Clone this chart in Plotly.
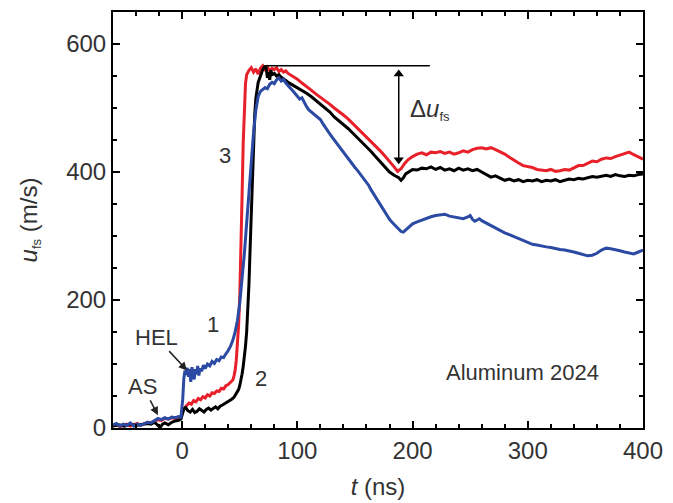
import plotly.graph_objects as go

# ---- free-surface velocity histories, Aluminum 2024 ----
# curve 1 (blue)
t_1 = [-60, -57, -54, -51, -48, -45, -42, -39, -36, -33, -30, -27, -24, -21, -18, -15, -12, -9, -6, -3, -1,
       0.5, 1.5, 2.5, 3.5, 4.5, 5.5, 6.5, 7.5, 8.5, 9.5, 10.5, 11.5, 12.5, 13.5, 14.5, 15.5, 17, 18.5, 20,
       22, 24, 26, 28, 30, 32, 34, 36, 38, 40, 42, 44, 46, 48, 50, 52, 54, 56, 58, 60, 62, 64, 66, 68, 70,
       72, 74, 76, 78, 80, 82, 84, 86, 88, 90, 92, 94, 96, 98, 100, 102, 104, 106, 108, 110, 112, 114, 116,
       118, 120, 122, 124, 126, 128, 130, 132, 134, 136, 138, 140, 142, 144, 146, 148, 150, 152, 154, 156,
       158, 160, 162, 164, 166, 168, 170, 172, 174, 176, 178, 180, 182, 184, 186, 188, 190, 192, 194, 196,
       198, 200, 204, 208, 212, 216, 220, 224, 228, 232, 236, 240, 244, 248, 250, 252, 254, 256, 258, 260,
       264, 268, 272, 276, 280, 284, 288, 292, 296, 300, 304, 308, 312, 316, 320, 324, 328, 332, 336, 340,
       344, 348, 352, 356, 360, 364, 368, 372, 376, 380, 384, 388, 392, 396, 400]
u_1 = [5, 7, 3, 6, 4, 8, 3, 6, 4, 7, 9, 8, 12, 15, 13, 16, 14, 17, 16, 18, 17,
       45, 78, 90, 83, 94, 80, 92, 72, 95, 86, 76, 92, 84, 97, 82, 93, 89, 98, 93,
       100, 97, 104, 101, 107, 105, 111, 110, 116, 121, 128, 137, 150, 168, 195, 232, 272, 320, 370, 418, 462, 497, 518, 526, 529,
       532, 530, 537, 540, 538, 544, 547, 542, 545, 539, 534, 531, 527, 523, 518, 514, 516, 508, 502, 497, 494, 491, 489,
       486, 482, 476, 470, 465, 460, 455, 450, 446, 441, 436, 431, 427, 422, 416, 411, 407, 403, 398, 394,
       389, 384, 379, 372, 366, 360, 355, 350, 344, 338, 331, 326, 322, 318, 314, 311, 307, 306, 309, 313,
       316, 319, 322, 325, 327, 330, 332, 333, 334, 331, 330, 328, 327, 330, 332, 326, 323, 325, 327, 324,
       320, 316, 312, 308, 305, 302, 299, 295, 292, 290, 287, 286, 284, 283, 282, 280, 279, 278, 277, 275,
       273, 271, 269, 270, 273, 278, 281, 280, 279, 277, 275, 273, 272, 275, 278]

# curve 2 (black)
t_2 = [-60, -55, -50, -45, -40, -35, -30, -27, -24, -21, -19, -17, -15, -12, -9, -6, -3, -1,
       0.5, 1.5, 3, 5, 7, 9, 11, 13, 15, 17, 19, 21, 23, 25, 27, 29, 31, 33, 35, 37, 39, 41, 43, 45, 47,
       49, 50, 51, 52, 53, 54, 55, 56, 57, 58, 59, 60, 61, 62, 63, 64, 65, 66, 68, 70, 72, 73, 74, 75, 76,
       77, 78, 80, 82, 84, 86, 88, 90, 92, 96, 100, 104, 108, 112, 116, 120, 124, 128, 132, 136, 140, 144,
       148, 152, 156, 160, 164, 168, 172, 176, 180, 184, 188, 190, 192, 194, 197, 200, 204, 208, 212, 216,
       220, 224, 228, 232, 236, 240, 244, 248, 252, 256, 260, 264, 268, 272, 276, 280, 284, 288, 292, 296,
       300, 304, 308, 312, 316, 320, 324, 328, 332, 336, 340, 344, 348, 352, 356, 360, 364, 368, 372, 376,
       380, 384, 388, 392, 396, 400]
u_2 = [3, 5, 3, 6, 4, 5, 7, 6, 9, 4, 1, 6, 8, 5, 9, 11, 12, 14,
       24, 30, 32, 27, 25, 29, 24, 26, 30, 27, 25, 29, 31, 28, 30, 33, 30, 34, 36, 38, 40, 42, 45, 48, 53,
       60, 66, 74, 84, 96, 110, 128, 150, 185, 225, 280, 335, 400, 450, 490, 515, 530, 540, 550, 560, 566, 562, 547, 556, 544,
       559, 552, 554, 550, 552, 548, 546, 543, 540, 536, 532, 527, 523, 518, 512, 506, 500, 494, 486, 480, 475, 468,
       461, 454, 447, 440, 432, 424, 416, 408, 400, 395, 391, 387, 391, 397, 401, 404, 403, 406, 405, 408,
       404, 407, 403, 405, 402, 406, 403, 405, 402, 404, 400, 396, 392, 394, 390, 387, 389, 386, 388, 385,
       387, 386, 388, 385, 387, 386, 388, 385, 387, 389, 388, 390, 389, 391, 393, 392, 394, 395, 393, 396,
       394, 393, 395, 394, 396, 397]

# curve 3 (red)
t_3 = [-60, -57, -54, -51, -48, -45, -42, -39, -36, -33, -30, -27, -24, -21, -18, -15, -12, -9, -6, -3, -1,
       0.5, 2, 4, 6, 8, 10, 12, 14, 16, 18, 20, 22, 24, 26, 28, 30, 32, 34, 36, 38, 40, 42, 44, 45, 46, 47,
       48, 49, 50, 51, 52, 53, 54, 55, 56, 58, 60, 62, 64, 66, 68, 70, 72, 74, 76, 78, 80, 82, 84, 86, 88,
       90, 92, 94, 96, 98, 100, 104, 108, 112, 116, 120, 124, 128, 132, 136, 140, 144, 148, 152, 156, 160,
       164, 168, 172, 176, 180, 184, 187, 190, 193, 196, 200, 204, 208, 212, 216, 220, 224, 228, 232, 236,
       240, 244, 248, 252, 256, 260, 264, 268, 272, 276, 280, 284, 288, 292, 296, 300, 304, 308, 312, 316,
       320, 324, 328, 332, 336, 340, 344, 348, 352, 356, 360, 364, 368, 372, 376, 380, 384, 388, 392, 396, 400]
u_3 = [3, 5, 2, 4, 6, 3, 5, 7, 4, 6, 9, 8, 11, 13, 12, 15, 14, 16, 15, 17, 18,
       26, 31, 35, 39, 37, 43, 41, 46, 44, 49, 47, 52, 50, 55, 54, 58, 57, 62, 61, 66, 68, 71, 75, 81, 90, 106,
       128, 160, 205, 270, 360, 445, 505, 538, 552, 559, 563, 556, 561, 553, 562, 566, 560, 564, 558, 562, 560, 563, 557, 560, 556,
       558, 554, 552, 550, 547, 545, 539, 534, 528, 522, 517, 511, 506, 500, 495, 489, 483, 476, 469, 462, 454,
       447, 440, 433, 425, 417, 408, 401, 405, 413, 419, 424, 428, 430, 427, 431, 430, 432, 429, 431, 428,
       430, 433, 431, 435, 437, 438, 436, 438, 435, 432, 428, 423, 418, 414, 410, 409, 407, 404, 403, 402,
       404, 401, 402, 404, 403, 406, 410, 410, 413, 417, 416, 420, 422, 421, 424, 426, 429, 431, 427, 423, 420]

RED = "#e8202a"
BLUE = "#2b4aa3"
INK = "#333333"
FONT = "Liberation Sans, Arial, Helvetica, sans-serif"
SUB_FS = "<span style='font-size:13px;baseline-shift:-4px'>fs</span>"

fig = go.Figure()
fig.add_trace(go.Scatter(x=t_3, y=u_3, mode="lines", line=dict(color=RED, width=3), name="3"))
fig.add_trace(go.Scatter(x=t_2, y=u_2, mode="lines", line=dict(color="black", width=3), name="2"))
fig.add_trace(go.Scatter(x=t_1, y=u_1, mode="lines", line=dict(color=BLUE, width=3), name="1"))

# spall-signal guide: peak level and pull-back double arrow
u_peak = max(u_2)
fig.add_shape(type="line", xref="x", yref="y", x0=71.5, x1=215, y0=u_peak, y1=u_peak,
              line=dict(color="black", width=1.5))
t_pull = 188
u_arrow_top, u_arrow_bot = 561, 411
fig.add_trace(go.Scatter(x=[t_pull, t_pull], y=[u_arrow_top - 6, u_arrow_bot + 6], mode="lines",
                         line=dict(color="black", width=1.5), hoverinfo="skip"))
fig.add_trace(go.Scatter(x=[t_pull, t_pull], y=[u_arrow_top - 8, u_arrow_bot + 8], mode="markers",
                         marker=dict(symbol=["triangle-up", "triangle-down"], size=9, color="black",
                                     line=dict(width=0)), hoverinfo="skip"))
fig.add_annotation(x=196, y=497, xref="x", yref="y", showarrow=False, xanchor="left",
                   text="\u0394<i>u</i>" + SUB_FS,
                   font=dict(size=24, color=INK, family=FONT))

# HEL and AS labels with pointers
fig.add_annotation(x=4.2, y=90, ax=-22.5, ay=142, xref="x", yref="y", axref="x", ayref="y",
                   text="HEL", showarrow=True, arrowhead=2, arrowsize=1.1, arrowwidth=1.5,
                   arrowcolor="#222", font=dict(size=22, color=INK, family=FONT))
fig.add_annotation(x=-21, y=20, ax=-34, ay=65, xref="x", yref="y", axref="x", ayref="y",
                   text="AS", showarrow=True, arrowhead=2, arrowsize=1.1, arrowwidth=1.5,
                   arrowcolor="#222", font=dict(size=22, color=INK, family=FONT))

labels = [
    ("1", 26.5, 161),
    ("2", 68.5, 78),
    ("3", 37, 426),
    ("Aluminum 2024", 295, 87),
]
for txt, lx, ly in labels:
    fig.add_annotation(x=lx, y=ly, xref="x", yref="y", text=txt, showarrow=False,
                       font=dict(size=22, color=INK, family=FONT))

axis_common = dict(
    showline=True, linewidth=2, linecolor="black", mirror="ticks",
    ticks="inside", ticklen=7, tickwidth=1.5, tickcolor="black",
    showgrid=False, zeroline=False,
    tickfont=dict(size=24, color=INK, family=FONT),
)

fig.update_xaxes(range=[-60, 400], tickvals=[0, 100, 200, 300, 400],
                 minor=dict(ticks="inside", ticklen=4, tickwidth=1.5, tickcolor="black", dtick=20, tick0=0),
                 title=dict(text="<i>t</i> (ns)", font=dict(size=24, color=INK, family=FONT), standoff=15),
                 **axis_common)
fig.update_yaxes(range=[0, 650], tickvals=[0, 200, 400, 600],
                 minor=dict(ticks="inside", ticklen=4, tickwidth=1.5, tickcolor="black", dtick=50, tick0=0),
                 title=dict(text="<i>u</i>" + SUB_FS + " (m/s)",
                            font=dict(size=24, color=INK, family=FONT), standoff=22),
                 **axis_common)

fig.update_layout(width=673, height=503, margin=dict(l=113, r=30, t=12, b=75, autoexpand=False),
                  plot_bgcolor="white", paper_bgcolor="white", showlegend=False,
                  font=dict(family=FONT, color=INK))

fig.write_html("out.html")
